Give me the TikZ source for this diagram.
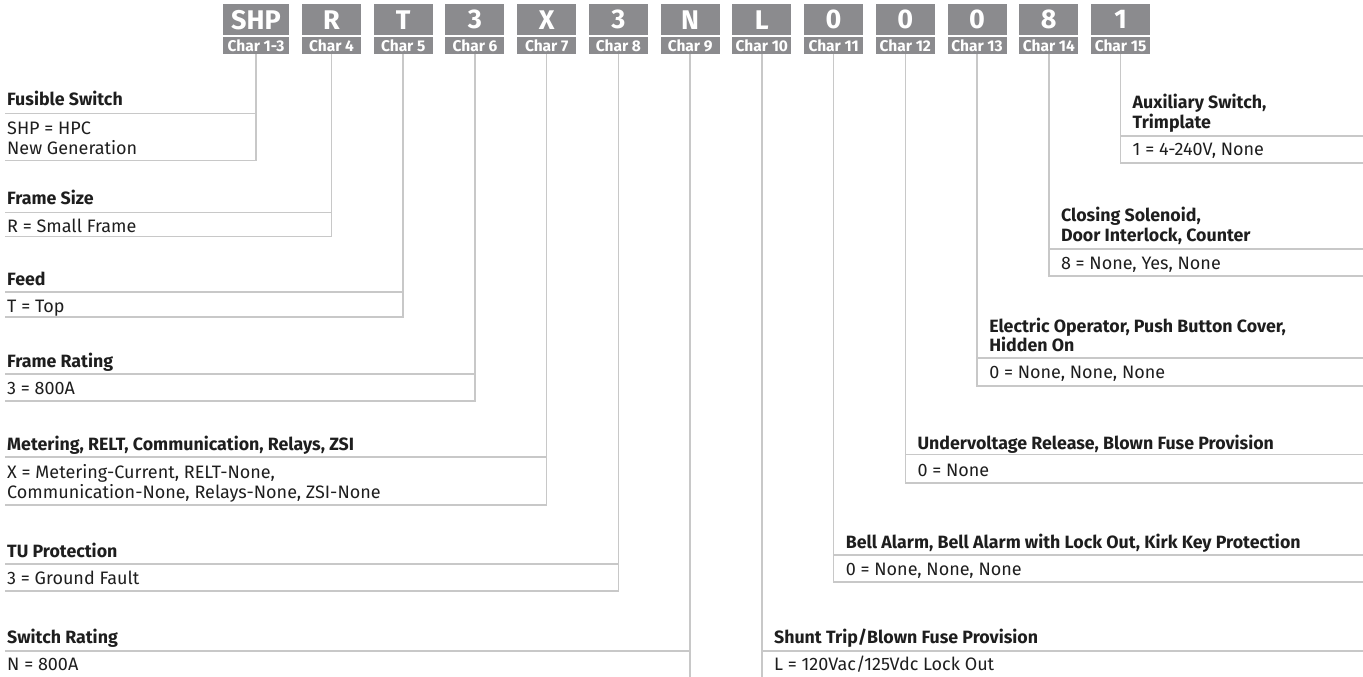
\documentclass[tikz,border=0pt]{standalone}
\usepackage{fontspec}
\setmainfont{Fira Sans}
\definecolor{boxgray}{HTML}{8B8B8E}
\definecolor{linegray}{HTML}{C8C8C8}
\definecolor{txt}{HTML}{1E1E1E}
\begin{document}
\begin{tikzpicture}[x=1pt,y=-1pt,
  valbox/.style={fill=boxgray, text=white, font=\fontsize{27}{27}\selectfont\bfseries, minimum height=31pt, minimum width=59pt, inner sep=0pt, anchor=north},
  charbox/.style={fill=boxgray, text=white, font=\fontsize{15.5}{15.5}\selectfont\bfseries, minimum height=17pt, minimum width=59pt, inner sep=0pt, anchor=north},
  conn/.style={draw=linegray, line width=1.5pt},
  ttl/.style={font=\fontsize{17.8}{20}\selectfont\bfseries, text=txt, anchor=base west, inner sep=0pt},
  val/.style={font=\fontsize{18}{20}\selectfont, text=txt, anchor=base west, inner sep=0pt},
]
\useasboundingbox (0,0) rectangle (1363,677);

% code boxes
\node[valbox, minimum width=66pt] (v1) at (256,4) {SHP};
\node[charbox, minimum width=66pt] (k1) at (256,37) {Char 1-3};
\foreach \v/\c [count=\i from 2] in {R/4, T/5, 3/6, X/7, 3/8, N/9, L/10, 0/11, 0/12, 0/13, 8/14, 1/15} {
  \node[valbox] (v\i) at ({331.5+71.73*(\i-2)},4) {\v};
  \node[charbox] (k\i) at ({331.5+71.73*(\i-2)},37) {Char \c};
}

% ---------- left entries ----------
% 1 Fusible Switch
\coordinate (a1) at (5,113.5);
\coordinate (b1) at (5,160.7);
\draw[conn] (a1) -- (a1 -| k1.south);
\draw[conn] (k1.south) |- (b1);
\node[ttl] (t1) at (7,106) {Fusible Switch};
\node[val] (d1a) at (7,134.6) {SHP = HPC};
\node[val] (d1b) at (7,154.6) {New Generation};

% 2 Frame Size
\coordinate (a2) at (5,212.3);
\coordinate (b2) at (5,236.7);
\draw[conn] (a2) -- (a2 -| k2.south);
\draw[conn] (k2.south) |- (b2);
\node[ttl] (t2) at (7,204.6) {Frame Size};
\node[val] (d2) at (7,232) {R = Small Frame};

% 3 Feed
\coordinate (a3) at (5,292);
\coordinate (b3) at (5,317);
\draw[conn] (a3) -- (a3 -| k3.south);
\draw[conn] (k3.south) |- (b3);
\node[ttl] (t3) at (7,285.3) {Feed};
\node[val] (d3) at (7,312.8) {T = Top};

% 4 Frame Rating
\coordinate (a4) at (5,374);
\coordinate (b4) at (5,401);
\draw[conn] (a4) -- (a4 -| k4.south);
\draw[conn] (k4.south) |- (b4);
\node[ttl] (t4) at (7,367.5) {Frame Rating};
\node[val] (d4) at (7,394.3) {3 = 800A};

% 5 Metering
\coordinate (a5) at (5,457);
\coordinate (b5) at (5,505);
\draw[conn] (a5) -- (a5 -| k5.south);
\draw[conn] (k5.south) |- (b5);
\node[ttl] (t5) at (7,450.5) {Metering, RELT, Communication, Relays, ZSI};
\node[val] (d5a) at (7,478.3) {X = Metering-Current, RELT-None,};
\node[val] (d5b) at (7,498.3) {Communication-None, Relays-None, ZSI-None};

% 6 TU Protection
\coordinate (a6) at (5,564);
\coordinate (b6) at (5,591);
\draw[conn] (a6) -- (a6 -| k6.south);
\draw[conn] (k6.south) |- (b6);
\node[ttl] (t6) at (7,557.3) {TU Protection};
\node[val] (d6) at (7,584.3) {3 = Ground Fault};

% 7 Switch Rating
\coordinate (a7) at (5,651);
\coordinate (e7) at (0,677);
\draw[conn] (a7) -- (a7 -| k7.south);
\draw[conn] (k7.south) -- (k7.south |- e7);
\node[ttl] (t7) at (7,643.3) {Switch Rating};
\node[val] (d7) at (7,670.3) {N = 800A};

% ---------- right entries ----------
% 8 Shunt Trip
\coordinate (a8) at (1363,651);
\coordinate (e8) at (1363,677);
\draw[conn] (a8 -| k8.south) -- (a8);
\draw[conn] (k8.south) -- (k8.south |- e8);
\node[ttl] (t8) at ([xshift=12pt]k8.south |- 0,643.3) {Shunt Trip/Blown Fuse Provision};
\node[val] (d8) at ([xshift=12pt]k8.south |- 0,670.3) {L = 120Vac/125Vdc Lock Out};

% 9 Bell Alarm
\coordinate (a9) at (1363,555);
\coordinate (b9) at (1363,582);
\draw[conn] (a9 -| k9.south) -- (a9);
\draw[conn] (k9.south) |- (b9);
\node[ttl] (t9) at ([xshift=12pt]k9.south |- 0,548.3) {Bell Alarm, Bell Alarm with Lock Out, Kirk Key Protection};
\node[val] (d9) at ([xshift=12pt]k9.south |- 0,575.3) {0 = None, None, None};

% 10 Undervoltage
\coordinate (a10) at (1363,454.5);
\coordinate (b10) at (1363,483);
\draw[conn] (a10 -| k10.south) -- (a10);
\draw[conn] (k10.south) |- (b10);
\node[ttl] (t10) at ([xshift=12pt]k10.south |- 0,449.3) {Undervoltage Release, Blown Fuse Provision};
\node[val] (d10) at ([xshift=12pt]k10.south |- 0,476.3) {0 = None};

% 11 Electric Operator
\coordinate (a11) at (1363,358);
\coordinate (b11) at (1363,386);
\draw[conn] (a11 -| k11.south) -- (a11);
\draw[conn] (k11.south) |- (b11);
\node[ttl] (t11a) at ([xshift=12pt]k11.south |- 0,332.3) {Electric Operator, Push Button Cover,};
\node[ttl] (t11b) at ([xshift=12pt]k11.south |- 0,351.3) {Hidden On};
\node[val] (d11) at ([xshift=12pt]k11.south |- 0,378.3) {0 = None, None, None};

% 12 Closing Solenoid
\coordinate (a12) at (1363,249);
\coordinate (b12) at (1363,276);
\draw[conn] (a12 -| k12.south) -- (a12);
\draw[conn] (k12.south) |- (b12);
\node[ttl] (t12a) at ([xshift=12pt]k12.south |- 0,221.8) {Closing Solenoid,};
\node[ttl] (t12b) at ([xshift=12pt]k12.south |- 0,241.8) {Door Interlock, Counter};
\node[val] (d12) at ([xshift=12pt]k12.south |- 0,269.3) {8 = None, Yes, None};

% 13 Auxiliary Switch
\coordinate (a13) at (1363,136);
\coordinate (b13) at (1363,163);
\draw[conn] (a13 -| k13.south) -- (a13);
\draw[conn] (k13.south) |- (b13);
\node[ttl] (t13a) at ([xshift=12pt]k13.south |- 0,108.3) {Auxiliary Switch,};
\node[ttl] (t13b) at ([xshift=12pt]k13.south |- 0,128.3) {Trimplate};
\node[val] (d13) at ([xshift=12pt]k13.south |- 0,155.3) {1 = 4-240V, None};
\end{tikzpicture}
\end{document}
